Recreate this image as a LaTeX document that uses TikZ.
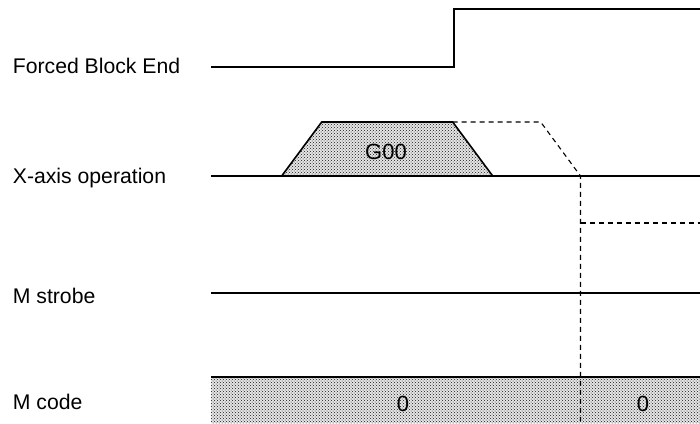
\documentclass[tikz,border=0pt]{standalone}
\usepackage{fontspec}
\setmainfont{Liberation Sans}
\usetikzlibrary{patterns}
\tikzset{
  sig-label/.style={anchor=base west, inner sep=0pt, font=\fontsize{21.2}{25}\selectfont},
  sig-value/.style={inner sep=0pt, font=\fontsize{22}{26}\selectfont},
  sig-line/.style={draw=black, line width=1.6pt, line join=miter},
  sig-fill/.style={preaction={fill=black!10}, pattern=crosshatch dots, pattern color=black!90},
  sig-ghost/.style={draw=black, line width=1.1pt, dash pattern=on 5pt off 4pt}
}
\begin{document}
\begin{tikzpicture}[x=1pt, y=-1pt]
  \useasboundingbox (0,0) rectangle (700,423);

  % Signal names
  \node[sig-label] (lblfbe) at (12.7,73) {Forced Block End};
  \node[sig-label] (lblxax) at (12.7,183) {X-axis operation};
  \node[sig-label] (lblmst) at (12.7,303) {M strobe};
  \node[sig-label] (lblmcd) at (12.7,409) {M code};

  % --- Forced Block End ---
  \coordinate (fbe0) at (211,67);
  \coordinate (fbe1) at (454,67);
  \coordinate (fbe2) at (454,9);
  \coordinate (fbe3) at (700,9);
  \draw[sig-line] (fbe0) -- (fbe1) -- (fbe2) -- (fbe3);

  % --- X-axis operation ---
  \coordinate (xax0) at (211,176);
  \coordinate (xax1) at (700,176);
  \coordinate (trbl) at (281.7,176);
  \coordinate (trtl) at (321.7,122);
  \coordinate (trtr) at (452.7,122);
  \coordinate (trbr) at (492.7,176);
  \fill[sig-fill] (trbl) -- (trtl) -- (trtr) -- (trbr) -- cycle;
  \draw[sig-line] (trbl) -- (trtl) -- (trtr) -- (trbr);
  \draw[sig-line] (xax0) -- (xax1);
  \node[sig-value] (g00) at (386,151.5) {G00};

  % --- M strobe ---
  \coordinate (mst0) at (211,293);
  \coordinate (mst1) at (700,293);
  \draw[sig-line] (mst0) -- (mst1);

  % --- M code ---
  \coordinate (mcd0) at (211,377);
  \coordinate (mcd1) at (700,377);
  \coordinate (mcd2) at (700,423);
  \fill[sig-fill] (mcd0) rectangle (mcd2);
  \draw[sig-line] (mcd0) -- (mcd1);
  \node[sig-value] (mcdv1) at (403,404) {0};
  \node[sig-value] (mcdv2) at (643,404) {0};

  % Interrupted motion
  \coordinate (gh1) at (540.7,122);
  \coordinate (gh2) at (580.5,176);
  \coordinate (gh3) at (580.5,421);
  \coordinate (gh4) at (580.5,223);
  \coordinate (gh5) at (700,223);
  \draw[sig-ghost] (trtr) -- (gh1) -- (gh2) -- (gh3);
  \draw[sig-ghost] (gh4) -- (gh5);
\end{tikzpicture}
\end{document}
